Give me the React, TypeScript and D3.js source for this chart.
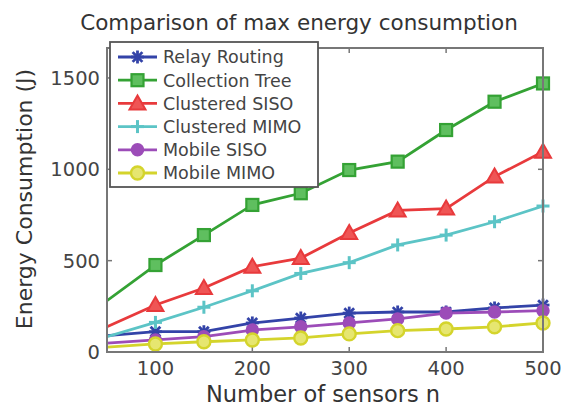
import * as d3 from "d3";
import React from "react";

// Datos
const sensors = [50, 100, 150, 200, 250, 300, 350, 400, 450, 500];
const relayRouting = [90, 111, 111, 159, 186, 213, 219, 219, 241, 257];
const collectionTree = [281, 476, 640, 805, 869, 996, 1042, 1215, 1370, 1470];
const clusteredSiso = [138, 257, 350, 467, 514, 651, 775, 785, 960, 1096];
const clusteredMimo = [84, 162, 245, 335, 430, 489, 586, 640, 713, 799];
const mobileSiso = [49, 66, 84, 120, 138, 159, 181, 213, 219, 226];
const mobileMimo = [27, 44, 56, 66, 77, 99, 117, 126, 138, 159];
const seriesNames = [
  "Relay Routing",
  "Collection Tree",
  "Clustered SISO",
  "Clustered MIMO",
  "Mobile SISO",
  "Mobile MIMO",
];
const xTicks = [100, 200, 300, 400, 500];
const yTicks = [0, 500, 1000, 1500];

const width = 564;
const height = 407;
const margin = { top: 48, right: 21, bottom: 55, left: 107 };
const font = "'DejaVu Sans', sans-serif";

const series = [
  { name: seriesNames[0], values: relayRouting, color: "#3343a8", marker: "star" },
  { name: seriesNames[1], values: collectionTree, color: "#34a234", marker: "square" },
  { name: seriesNames[2], values: clusteredSiso, color: "#e83a3c", marker: "triangle" },
  { name: seriesNames[3], values: clusteredMimo, color: "#5cc4c6", marker: "plus" },
  { name: seriesNames[4], values: mobileSiso, color: "#9c4cb8", marker: "circle" },
  { name: seriesNames[5], values: mobileMimo, color: "#d4d42c", marker: "ring" },
];

function Marker({ type, color, x, y }: { type: string; color: string; x: number; y: number }) {
  const s = 6.5;
  if (type === "star") {
    return (
      <g stroke={color} strokeWidth={2.8} transform={`translate(${x},${y})`}>
        <line x1={-s} y1={0} x2={s} y2={0} />
        <line x1={0} y1={-s} x2={0} y2={s} />
        <line x1={-s * 0.75} y1={-s * 0.75} x2={s * 0.75} y2={s * 0.75} />
        <line x1={-s * 0.75} y1={s * 0.75} x2={s * 0.75} y2={-s * 0.75} />
      </g>
    );
  }
  if (type === "square") {
    return (
      <rect x={x - 6} y={y - 6} width={12} height={12} fill="#5fbf5f" stroke={color} strokeWidth={2.2} />
    );
  }
  if (type === "triangle") {
    const t = 8;
    return (
      <path
        d={`M${x},${y - t}L${x + t},${y + t * 0.75}L${x - t},${y + t * 0.75}Z`}
        fill="#ef5555"
        stroke={color}
        strokeWidth={2}
      />
    );
  }
  if (type === "plus") {
    return (
      <g stroke={color} strokeWidth={3} transform={`translate(${x},${y})`}>
        <line x1={-s} y1={0} x2={s} y2={0} />
        <line x1={0} y1={-s} x2={0} y2={s} />
      </g>
    );
  }
  if (type === "circle") {
    return <circle cx={x} cy={y} r={6} fill={color} stroke={color} strokeWidth={1.5} />;
  }
  return <circle cx={x} cy={y} r={6.5} fill="#e6e670" stroke={color} strokeWidth={2.4} />;
}

export default function App() {
  const x = d3
    .scaleLinear()
    .domain([50, 500])
    .range([margin.left, width - margin.right]);
  const y = d3
    .scaleLinear()
    .domain([0, 1664])
    .range([height - margin.bottom, margin.top]);

  const line = d3
    .line<number>()
    .x((_, i) => x(sensors[i]))
    .y((d) => y(d));

  const x0 = margin.left;
  const x1 = width - margin.right;
  const y0 = height - margin.bottom;
  const y1 = margin.top;

  const legendX = 110;
  const legendY = 42;
  const legendW = 208;
  const legendH = 145;
  const rowStep = 23.2;

  return (
    <svg
      width={width}
      height={height}
      style={{ position: "absolute", left: 0, top: 0, background: "#fff" }}
      fontFamily={font}
    >
      <defs>
        <clipPath id="plot-clip">
          <rect x={x0} y={y1} width={x1 - x0} height={y0 - y1} />
        </clipPath>
      </defs>

      {/* Título */}
      <text x={299} y={30} textAnchor="middle" fontSize={21.5} fill="#333">
        Comparison of max energy consumption
      </text>

      {/* Ticks */}
      <g stroke="#777" strokeWidth={1.5}>
        {xTicks.map((t) => (
          <g key={"xt" + t}>
            <line x1={x(t)} x2={x(t)} y1={y0} y2={y0 - 5} />
            <line x1={x(t)} x2={x(t)} y1={y1} y2={y1 + 5} />
          </g>
        ))}
        {yTicks.map((t) => (
          <g key={"yt" + t}>
            <line x1={x0} x2={x0 + 5} y1={y(t)} y2={y(t)} />
            <line x1={x1} x2={x1 - 5} y1={y(t)} y2={y(t)} />
          </g>
        ))}
      </g>

      {/* Series */}
      <g clipPath="url(#plot-clip)">
        {series.map((s) => (
          <path key={s.name} d={line(s.values) || ""} fill="none" stroke={s.color} strokeWidth={2.8} />
        ))}
      </g>
      {series.map((s) => (
        <g key={s.name + "-m"}>
          {s.values.map((v, i) =>
            sensors[i] > 50 ? (
              <Marker key={i} type={s.marker} color={s.color} x={x(sensors[i])} y={y(v)} />
            ) : null
          )}
        </g>
      ))}

      {/* Marco */}
      <rect x={x0} y={y1} width={x1 - x0} height={y0 - y1} fill="none" stroke="#777" strokeWidth={2} />

      {/* Etiquetas de ejes */}
      {xTicks.map((t) => (
        <text key={"xl" + t} x={x(t)} y={375} textAnchor="middle" fontSize={19.5} fill="#444">
          {t}
        </text>
      ))}
      {yTicks.map((t) => (
        <text key={"yl" + t} x={100} y={y(t)} dy="0.36em" textAnchor="end" fontSize={19.5} fill="#444">
          {t}
        </text>
      ))}
      <text x={323} y={402} textAnchor="middle" fontSize={22.5} fill="#333">
        Number of sensors n
      </text>
      <text
        transform={`translate(32,199) rotate(-90)`}
        textAnchor="middle"
        fontSize={22}
        fill="#333"
      >
        Energy Consumption (J)
      </text>

      {/* Leyenda */}
      <rect x={legendX} y={legendY} width={legendW} height={legendH} fill="#fff" stroke="#555" strokeWidth={1.8} />
      {series.map((s, i) => {
        const ry = legendY + 15 + i * rowStep;
        return (
          <g key={s.name + "-leg"}>
            <line x1={118} x2={157} y1={ry} y2={ry} stroke={s.color} strokeWidth={2.8} />
            <Marker type={s.marker} color={s.color} x={137.5} y={ry} />
            <text x={163} y={ry} dy="0.36em" fontSize={17.5} fill="#444">
              {s.name}
            </text>
          </g>
        );
      })}
    </svg>
  );
}
